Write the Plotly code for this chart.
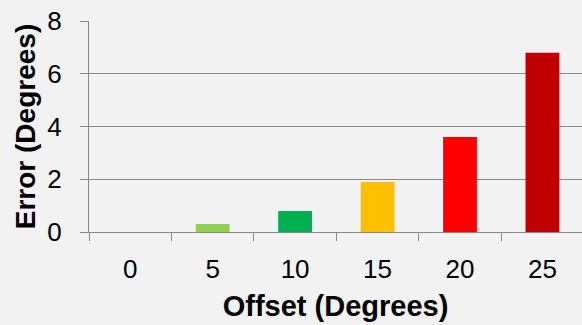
import plotly.graph_objects as go

# Pointing error measured at each offset angle
offsets = ["0", "5", "10", "15", "20", "25"]
errors = [0.0, 0.3, 0.8, 1.9, 3.6, 6.8]
bar_colors = ["#92D050", "#92D050", "#00B050", "#FFC000", "#FF0000", "#C00000"]
y_ticks = [0, 2, 4, 6, 8]

axis_grey = "#898989"
font_family = "Arial, Liberation Sans, sans-serif"

fig = go.Figure(
    go.Bar(
        x=offsets,
        y=errors,
        marker=dict(color=bar_colors, line=dict(width=0)),
        width=0.41,
    )
)

fig.update_layout(
    width=582,
    height=325,
    margin=dict(l=89, r=0, t=21, b=93),
    paper_bgcolor="#f2f2f2",
    plot_bgcolor="#f2f2f2",
    font=dict(family=font_family, color="#000000", size=26),
    showlegend=False,
    bargap=0.59,
)

fig.update_xaxes(
    type="category",
    range=[-0.5, 5.48],
    tickson="boundaries",
    ticks="outside",
    ticklen=8,
    tickwidth=1,
    tickcolor=axis_grey,
    showline=True,
    linecolor=axis_grey,
    linewidth=1,
    showgrid=False,
    tickfont=dict(size=26),
    ticklabelstandoff=14,
    title=dict(text="<b>Offset (Degrees)</b>", font=dict(size=29), standoff=12),
)

fig.update_yaxes(
    range=[0, 8],
    tickvals=y_ticks,
    ticks="outside",
    ticklen=8,
    tickwidth=1,
    tickcolor=axis_grey,
    showline=True,
    linecolor=axis_grey,
    linewidth=1,
    showgrid=True,
    gridcolor=axis_grey,
    gridwidth=1,
    zeroline=False,
    tickfont=dict(size=26),
    ticklabelstandoff=13,
    title=dict(text="<b>Error (Degrees)</b>", font=dict(size=28), standoff=3),
)

fig.write_html("out.html")
